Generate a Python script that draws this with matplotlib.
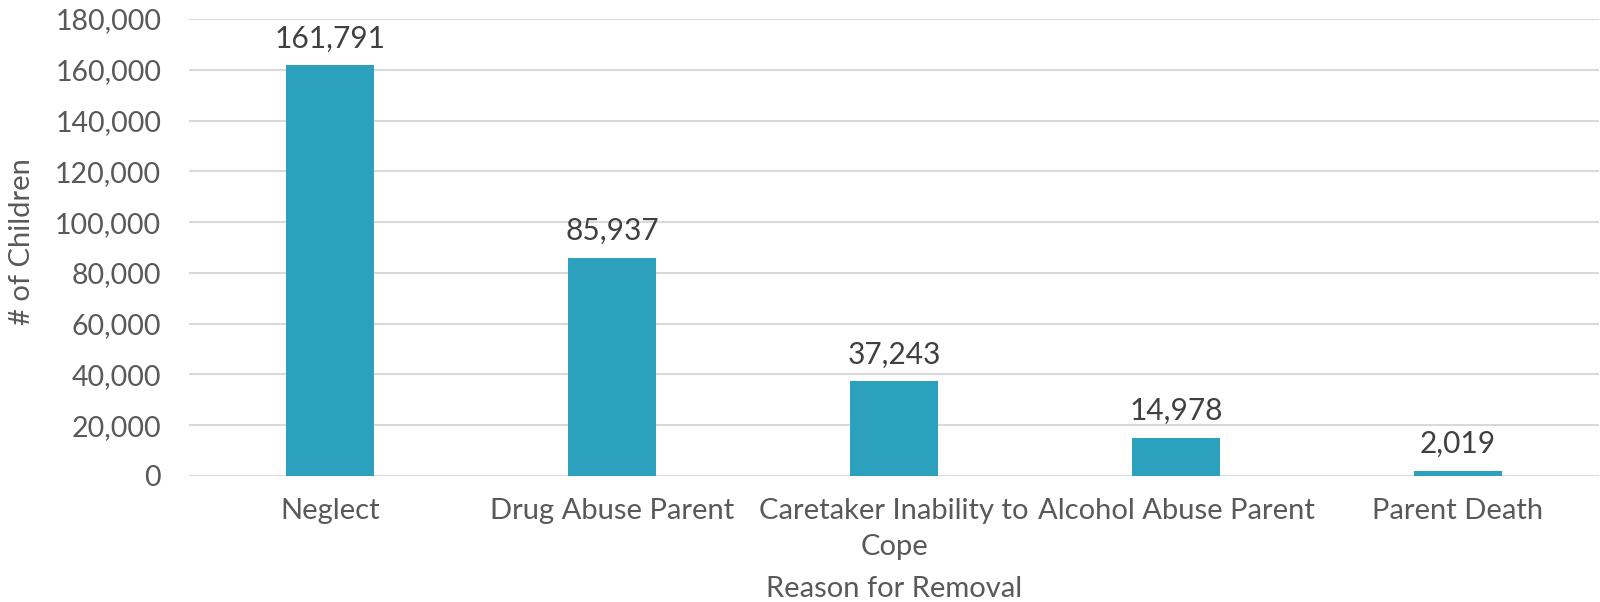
import matplotlib.pyplot as plt
from matplotlib.ticker import FuncFormatter

categories = ['Neglect', 'Drug Abuse Parent', 'Caretaker Inability to\nCope',
              'Alcohol Abuse Parent', 'Parent Death']
children = [161791, 85937, 37243, 14978, 2019]

BAR_COLOR = '#2CA1BE'
TEXT = '#595959'

plt.rcParams['font.family'] = ['Lato', 'DejaVu Sans']

fig = plt.figure(figsize=(16, 6.02), dpi=100)
ax = fig.add_axes([189/1600, 1 - 476/602, (1599-189)/1600, (476-19)/602])

x = range(len(categories))
bars = ax.bar(x, children, width=0.31, color=BAR_COLOR, zorder=3)

for xi, v in zip(x, children):
    ax.text(xi, v + 5000, f'{v:,}', ha='center', va='bottom', fontsize=21.5, color='#404040')

ax.set_xlim(-0.5, len(categories) - 0.5)
ax.set_ylim(0, 180000)
ax.set_yticks(range(0, 180001, 20000))
ax.yaxis.set_major_formatter(FuncFormatter(lambda v, p: f'{int(v):,}'))
ax.grid(axis='y', color='#D9D9D9', linewidth=1.5, zorder=0)
ax.set_axisbelow(True)

for s in ax.spines.values():
    s.set_visible(False)
ax.tick_params(length=0)
ax.tick_params(axis='y', labelsize=20.5, labelcolor=TEXT, pad=20)
ax.tick_params(axis='x', labelsize=21, labelcolor=TEXT, pad=16)
ax.set_xticks(list(x))
ax.set_xticklabels(categories, linespacing=1.45)

fig.text(22/1600, 1 - 242/602, '# of Children', rotation=90, ha='center', va='center',
         fontsize=21, color=TEXT)
ax.set_xlabel('Reason for Removal', fontsize=21, color=TEXT, labelpad=12)

fig.savefig('out.png', dpi=100, facecolor='white')
